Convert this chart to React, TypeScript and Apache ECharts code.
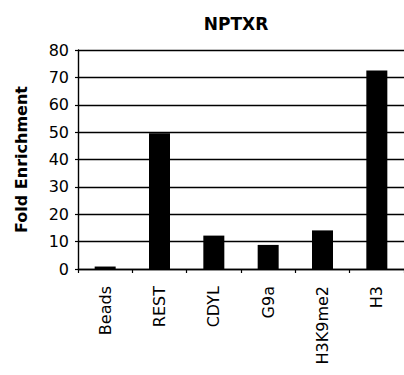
import React, { useEffect, useRef } from "react";
import * as echarts from "echarts";

const categories = ["Beads", "REST", "CDYL", "G9a", "H3K9me2", "H3"];
const values = [0.9, 49.6, 12.2, 8.8, 14.1, 72.5];
const yTicks = { min: 0, max: 80, interval: 10 };
const titleText = "NPTXR";
const yName = "Fold Enrichment";

export default function App() {
  const ref = useRef<HTMLDivElement>(null);
  useEffect(() => {
    const chart = echarts.init(ref.current!, null, { renderer: "svg" });
    const font = "'DejaVu Sans', Verdana, sans-serif";
    chart.setOption({
      animation: false,
      backgroundColor: "#ffffff",
      title: {
        text: titleText,
        left: 231,
        top: 10,
        textAlign: "center",
        textStyle: { fontFamily: font, fontSize: 17, fontWeight: "bold", color: "#000" },
      },
      grid: { left: 78, top: 50, right: 0, bottom: 106, containLabel: false },
      xAxis: {
        type: "category",
        data: categories,
        axisLine: { lineStyle: { color: "#000", width: 1.4 } },
        axisTick: { show: true, length: 4, lineStyle: { color: "#000", width: 1.2 } },
        axisLabel: { rotate: 90, margin: 17, color: "#000", fontFamily: font, fontSize: 16 },
      },
      yAxis: {
        type: "value",
        min: yTicks.min,
        max: yTicks.max,
        interval: yTicks.interval,
        name: yName,
        nameLocation: "middle",
        nameRotate: 90,
        nameGap: 49,
        nameTextStyle: { fontFamily: font, fontSize: 16, fontWeight: "bold", color: "#000" },
        axisLine: { show: true, lineStyle: { color: "#000", width: 1.4 } },
        axisTick: { show: true, length: 3, lineStyle: { color: "#000", width: 1.2 } },
        splitLine: { show: true, lineStyle: { color: "#000", width: 1.4 } },
        axisLabel: { margin: 9, color: "#000", fontFamily: font, fontSize: 16 },
      },
      series: [
        {
          type: "bar",
          data: values,
          barWidth: 21,
          itemStyle: { color: "#000" },
        },
      ],
    });
    return () => chart.dispose();
  }, []);
  return (
    <div
      ref={ref}
      style={{ position: "fixed", left: 0, top: 0, width: 404, height: 375 }}
    />
  );
}
